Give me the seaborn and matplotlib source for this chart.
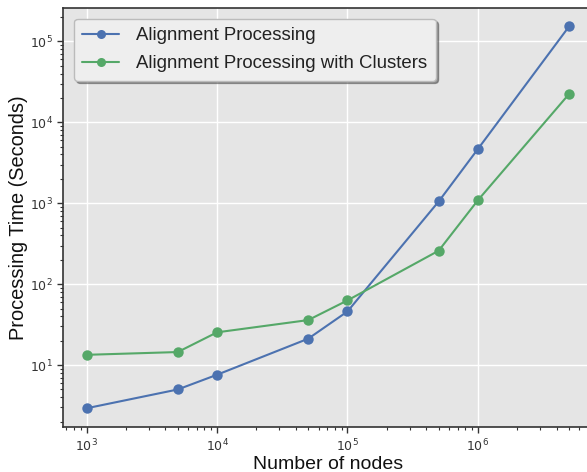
import matplotlib
matplotlib.use("Agg")
import matplotlib.pyplot as plt
import seaborn as sns
import pandas as pd

# ---------------------------------
# Data
# ---------------------------------
nodes = [1e3, 5e3, 1e4, 5e4, 1e5, 5e5, 1e6, 5e6]
alignment = [2.93, 5.0, 7.6, 21.2, 46, 1050, 4680, 153000]
alignment_clusters = [13.4, 14.5, 25.4, 36, 63, 259, 1090, 22400]
series_names = ["Alignment Processing", "Alignment Processing with Clusters"]

df = pd.DataFrame({
    "nodes": nodes * 2,
    "time": alignment + alignment_clusters,
    "series": [series_names[0]] * len(nodes) + [series_names[1]] * len(nodes),
})

# ---------------------------------
# Style
# ---------------------------------
sns.set_theme(style="darkgrid", rc={
    "axes.facecolor": "#E5E5E5",
    "axes.edgecolor": "#333333",
    "axes.linewidth": 1.2,
    "grid.color": "white",
    "xtick.bottom": True,
    "ytick.left": True,
    "xtick.color": "#333333",
    "ytick.color": "#333333",
})
plt.rcParams["font.family"] = ["DejaVu Sans"]

fig = plt.figure(figsize=(5.87, 4.72), dpi=100)
ax = fig.add_axes([63 / 587, 1 - 427 / 472, 1.0 - 63 / 587 + 0.01, (427 - 7.7) / 472])

palette = ["#4C72B0", "#55A868"]
sns.lineplot(data=df, x="nodes", y="time", hue="series", palette=palette,
             marker="o", markersize=7.5, markeredgewidth=0, linewidth=1.5, ax=ax)

ax.set_xscale("log")
ax.set_yscale("log")
ax.set_xlim(660, 7.6e6)
ax.set_ylim(1.72, 2.6e5)
ax.grid(True, which="major", color="white", linewidth=1)
ax.grid(False, which="minor")
ax.tick_params(axis="both", which="major", labelsize=9, length=4, width=1)
ax.tick_params(axis="both", which="minor", length=2.5, width=0.8)

ax.set_xlabel("Number of nodes", fontsize=14, family=["Liberation Sans"], color="#111111")
ax.set_ylabel("Processing Time (Seconds)", fontsize=14.4, family=["Liberation Sans"], color="#111111")
ax.yaxis.set_label_coords(-0.066, 0.5)
ax.xaxis.set_label_coords(0.5, -0.068)

leg = ax.legend(loc="upper left", bbox_to_anchor=(0.003, 0.996), frameon=True, shadow=True,
                prop={"family": "Liberation Sans", "size": 13.4}, facecolor="#EEEEEE",
                edgecolor="#BBBBBB", framealpha=1.0, handlelength=2.0, handletextpad=0.9,
                labelspacing=0.6, borderpad=0.45, labelcolor="#222222")
for h in leg.legend_handles:
    h.set_markersize(6.5)

fig.savefig("out.png", dpi=100)
